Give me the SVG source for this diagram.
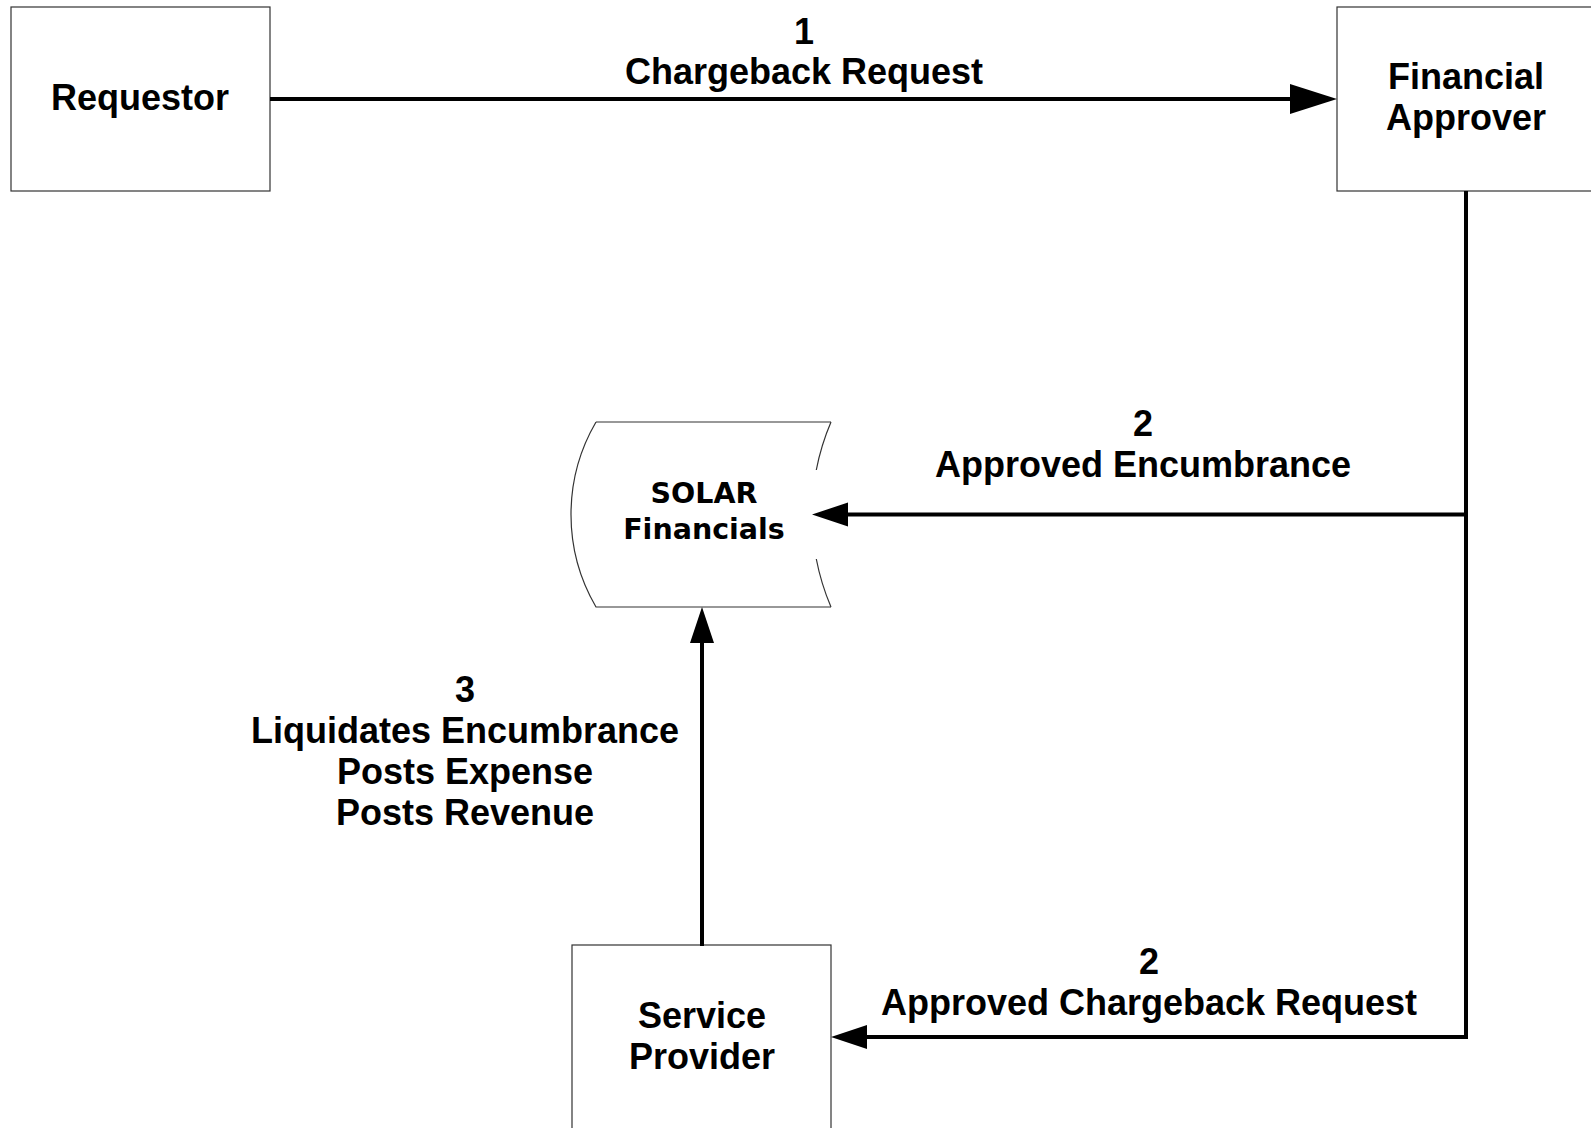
<svg xmlns="http://www.w3.org/2000/svg" width="1591" height="1128" viewBox="0 0 1591 1128">
<style>
.box{fill:#fff;stroke:#333;stroke-width:1.2}
.lbl{font-family:"Liberation Sans",Arial,sans-serif;font-weight:bold;font-size:36px;fill:#000;text-anchor:middle}
.dv{font-family:"DejaVu Sans",Verdana,sans-serif;font-weight:bold;font-size:28.5px;fill:#000;text-anchor:middle}
.conn{fill:none;stroke:#000;stroke-width:4;stroke-linejoin:miter}
</style>
<defs>
<marker id="bigArrow" markerUnits="userSpaceOnUse" markerWidth="48" markerHeight="31" refX="0" refY="15" orient="auto" viewBox="0 0 48 30">
<path d="M0,0 L47,15 L0,30 z" fill="#000"/>
</marker>
<marker id="smallArrow" markerUnits="userSpaceOnUse" markerWidth="37" markerHeight="25" refX="0" refY="12" orient="auto" viewBox="0 0 37 24">
<path d="M0,0 L36,12 L0,24 z" fill="#000"/>
</marker>
</defs>
<rect width="1591" height="1128" fill="#fff"/>
<g id="requestor">
<rect class="box" x="11" y="7" width="259" height="184"/>
<text class="lbl" x="140" y="110">Requestor</text>
</g>
<g id="financial-approver">
<rect class="box" x="1337" y="7" width="259" height="184"/>
<text class="lbl" x="1466" y="89">Financial</text>
<text class="lbl" x="1466" y="130">Approver</text>
</g>
<g id="solar-financials">
<path class="box" d="M596,422 L831,422 M831,607 L596,607 A183.6,183.6 0 0 1 596,422" />
<path class="box" d="M831,422 A234.7,234.7 0 0 0 816.3,470 M816.3,559 A234.7,234.7 0 0 0 831,607" style="fill:none"/>
<text class="dv" x="704" y="503">SOLAR</text>
<text class="dv" x="704" y="539">Financials</text>
</g>
<g id="service-provider">
<rect class="box" x="572" y="945" width="259" height="184"/>
<text class="lbl" x="702" y="1028">Service</text>
<text class="lbl" x="702" y="1069">Provider</text>
</g>
<g id="connectors">
<path class="conn" d="M270,99 H1290" marker-end="url(#bigArrow)"/>
<path class="conn" d="M1466,191 V514.5 H848" marker-end="url(#smallArrow)"/>
<path class="conn" d="M1466,512.5 V1037 H867" marker-end="url(#smallArrow)"/>
<path class="conn" d="M702,946 V643" marker-end="url(#smallArrow)"/>
</g>
<g id="labels">
<text class="lbl" x="804" y="44">1</text>
<text class="lbl" x="804" y="84">Chargeback Request</text>
<text class="lbl" x="1143" y="436">2</text>
<text class="lbl" x="1143" y="477">Approved Encumbrance</text>
<text class="lbl" x="1149" y="974">2</text>
<text class="lbl" x="1149" y="1015">Approved Chargeback Request</text>
<text class="lbl" x="465" y="702">3</text>
<text class="lbl" x="465" y="743">Liquidates Encumbrance</text>
<text class="lbl" x="465" y="784">Posts Expense</text>
<text class="lbl" x="465" y="825">Posts Revenue</text>
</g>
</svg>
